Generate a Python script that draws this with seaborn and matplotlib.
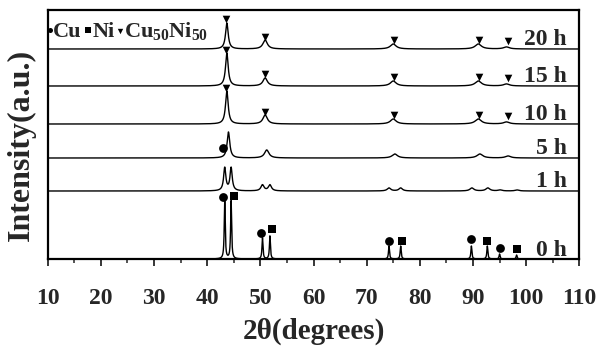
import numpy as np
import pandas as pd
import matplotlib
matplotlib.use("Agg")
import matplotlib.pyplot as plt
import seaborn as sns

# ---------------- data ----------------
samples = ["0 h", "1 h", "5 h", "10 h", "15 h", "20 h"]
offsets = [0, 68, 101, 135, 173, 210]

peak_pos = {
    "0 h":  [43.3, 44.5, 50.4, 51.8, 74.2, 76.4, 89.7, 92.7, 95.0, 98.2],
    "1 h":  [43.3, 44.5, 50.4, 51.8, 74.2, 76.4, 89.8, 92.8, 95.1, 98.3],
    "5 h":  [44.0, 51.2, 75.3, 91.3, 96.6],
    "10 h": [43.7, 50.9, 75.0, 91.0, 96.3],
    "15 h": [43.7, 50.9, 75.0, 91.0, 96.3],
    "20 h": [43.7, 50.9, 75.0, 91.0, 96.3],
}
peak_height = {
    "0 h":  [58, 58, 21, 23, 13, 13, 13, 13, 5, 4],
    "1 h":  [23, 23, 6, 6, 3, 3, 3, 3, 1, 1],
    "5 h":  [26, 8, 4, 4, 2],
    "10 h": [33, 9, 5, 5, 2],
    "15 h": [33, 8, 5, 5, 2],
    "20 h": [26, 9, 5, 5, 2],
}
peak_width = {
    "0 h":  [0.22] * 10,
    "1 h":  [0.5, 0.5, 0.7, 0.7, 0.8, 0.8, 0.9, 0.9, 0.9, 0.9],
    "5 h":  [0.6, 1.0, 1.2, 1.3, 1.2],
    "10 h": [0.6, 1.0, 1.3, 1.4, 1.3],
    "15 h": [0.6, 1.0, 1.3, 1.4, 1.3],
    "20 h": [0.6, 1.0, 1.3, 1.4, 1.3],
}

# phase markers: sample, 2theta, height above baseline, phase
marker_sample = ["0 h"] * 10 + ["5 h"] + ["10 h"] * 5 + ["15 h"] * 5 + ["20 h"] * 5
marker_x = [43.0, 45.0, 50.1, 52.2, 74.2, 76.6, 89.7, 92.7, 95.0, 98.3,
            43.0,
            43.6, 50.9, 75.2, 91.1, 96.5,
            43.6, 50.9, 75.2, 91.1, 96.5,
            43.6, 50.9, 75.2, 91.1, 96.5]
marker_y = [62, 63, 26, 30, 18, 18, 20, 18, 11, 10,
            10,
            36, 12, 9, 9, 8,
            36, 12, 9, 9, 8,
            30, 12, 9, 9, 8]
marker_kind = ["Cu", "Ni"] * 5 + ["Cu"] + ["CuNi"] * 15

x_ticks = [10, 20, 30, 40, 50, 60, 70, 80, 90, 100, 110]

# ---------------- build curves ----------------
grid = np.linspace(10, 110, 5001)
rows = []
for s, off in zip(samples, offsets):
    y = np.zeros_like(grid)
    for p, h, w in zip(peak_pos[s], peak_height[s], peak_width[s]):
        g = (w / 2) ** 2
        y += h * g / ((grid - p) ** 2 + g)
    rows.append(pd.DataFrame({"tt": grid, "I": y + off, "sample": s}))
df = pd.concat(rows, ignore_index=True)

mk = pd.DataFrame({"sample": marker_sample, "tt": marker_x,
                   "dy": marker_y, "kind": marker_kind})
mk["I"] = mk["sample"].map(dict(zip(samples, offsets))) + mk["dy"]

# ---------------- plot ----------------
sns.set_theme(style="white")
plt.rcParams["font.family"] = ["Liberation Serif", "DejaVu Sans"]
plt.rcParams["font.weight"] = "bold"
plt.rcParams["mathtext.fontset"] = "custom"
plt.rcParams["mathtext.rm"] = "Liberation Serif:bold"
plt.rcParams["mathtext.it"] = "Liberation Serif:bold"
plt.rcParams["mathtext.bf"] = "Liberation Serif:bold"

fig = plt.figure(figsize=(5.98, 3.47), dpi=100)
ax = fig.add_axes([0.0798, 0.2536, 0.8889, 0.7176])

sns.lineplot(data=df, x="tt", y="I", units="sample", estimator=None,
             color="black", lw=1.0, ax=ax, sort=False)

shape = {"Cu": "o", "Ni": "s", "CuNi": "v"}
size = {"Cu": 40, "Ni": 34, "CuNi": 30}
for k in ["Cu", "Ni", "CuNi"]:
    sub = mk[mk["kind"] == k]
    sns.scatterplot(data=sub, x="tt", y="I", marker=shape[k], s=size[k],
                    color="black", edgecolor="black", linewidth=0, ax=ax)

for s, off in zip(samples, offsets):
    ax.text(107.7, off + 3.5, s, ha="right", va="baseline", fontsize=17,
            fontweight="bold")

# phase key in the top-left corner
ax.scatter([10.45], [229], marker="o", s=13, color="black", linewidths=0)
ax.text(10.9, 222, "Cu", ha="left", va="baseline", fontsize=16, fontweight="bold")
ax.scatter([17.6], [229], marker="s", s=13, color="black", linewidths=0)
ax.text(18.4, 222, "Ni", ha="left", va="baseline", fontsize=16, fontweight="bold")
ax.scatter([23.6], [228], marker="v", s=15, color="black", linewidths=0)
ax.text(24.3, 222, "Cu$_{50}$Ni$_{50}$", ha="left", va="baseline",
        fontsize=16, fontweight="bold")

ax.set_xlim(10, 110)
ax.set_ylim(0, 249)
ax.set_xticks(x_ticks)
ax.set_xticklabels([str(t) for t in x_ticks])
ax.set_xticks(np.arange(15, 110, 10), minor=True)
ax.set_yticks([])
ax.tick_params(axis="x", which="major", direction="out", length=5, width=1.3,
               bottom=True, labelsize=17, pad=16)
ax.tick_params(axis="x", which="minor", direction="out", length=3, width=1.1,
               bottom=True)
for sp in ax.spines.values():
    sp.set_color("black")
    sp.set_linewidth(1.6)
ax.set_xlabel("2\u03b8(degrees)", fontsize=21, fontweight="bold", labelpad=6)
ax.set_ylabel("Intensity(a.u.)", fontsize=23, fontweight="bold")
ax.yaxis.set_label_coords(-0.022, 0.46)

fig.savefig("out.png", dpi=100)
